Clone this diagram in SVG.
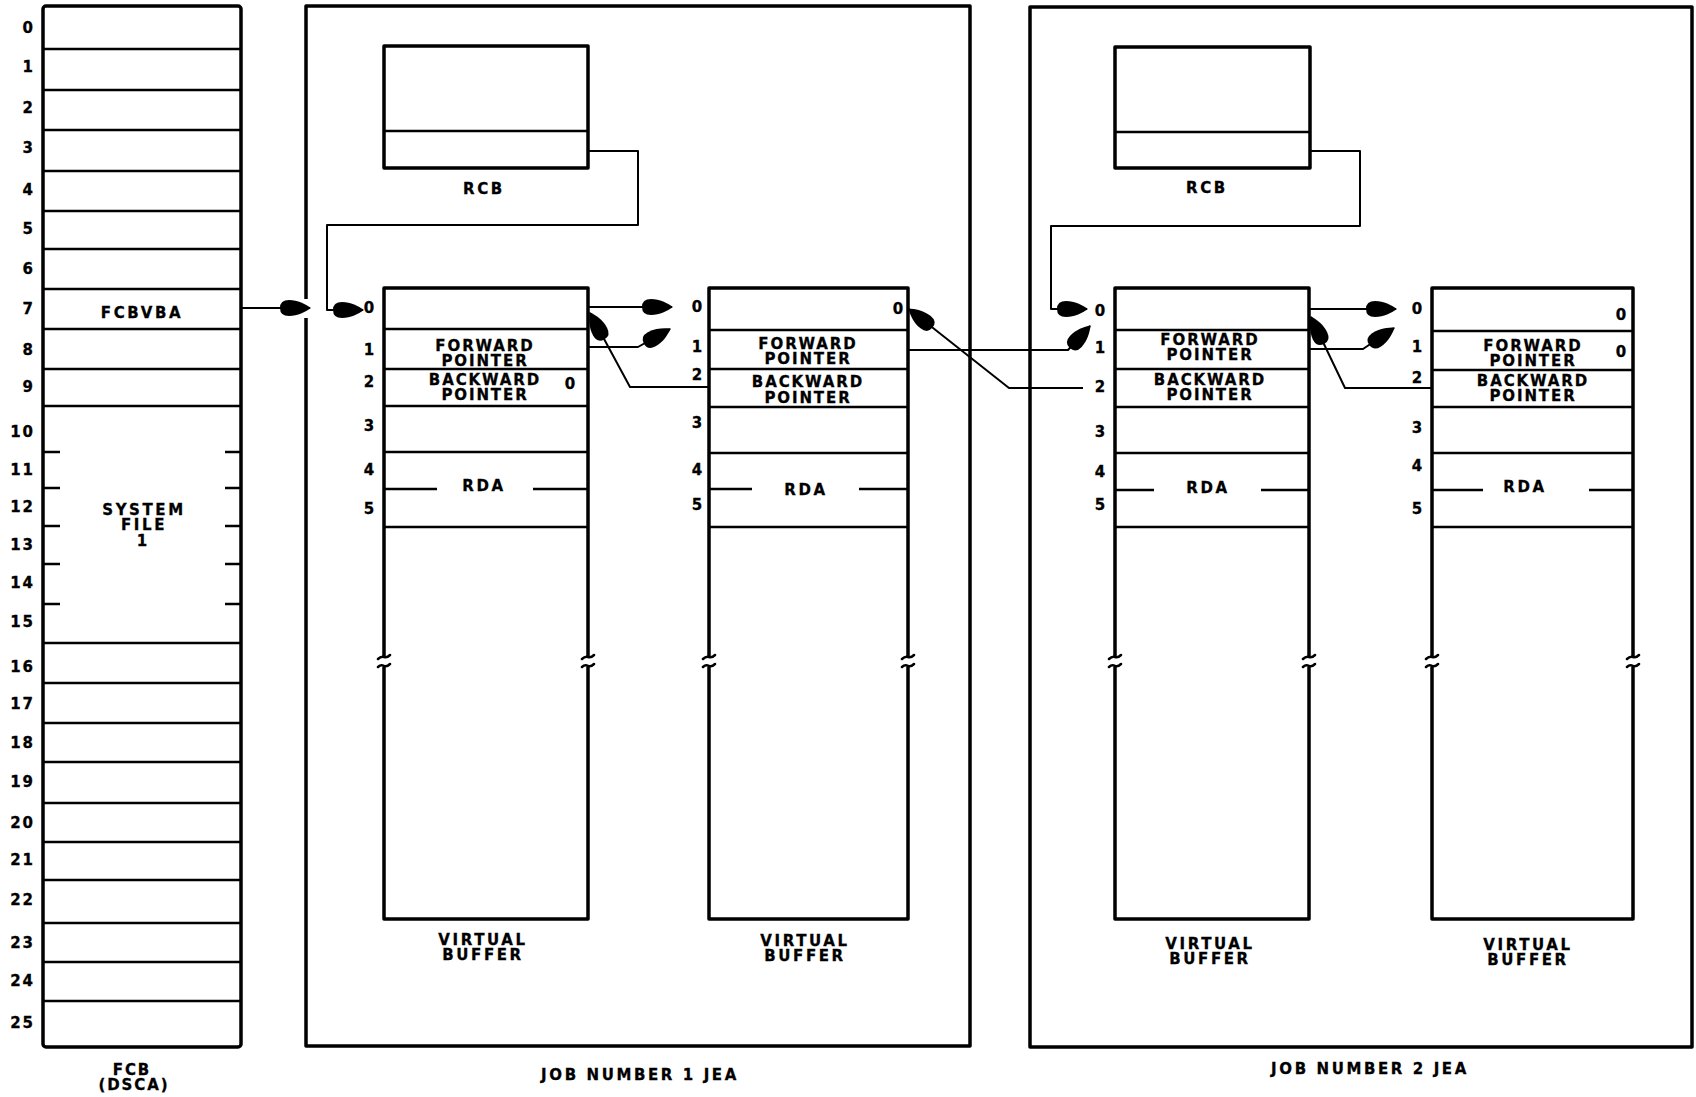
<svg xmlns="http://www.w3.org/2000/svg" width="1696" height="1097" viewBox="0 0 1696 1097">
<style>
.frame{fill:none;stroke:#000;stroke-width:3.5;stroke-linejoin:round}
.row{fill:none;stroke:#000;stroke-width:2.5}
.conn{fill:none;stroke:#000;stroke-width:2;stroke-linejoin:round}
.brk{fill:none;stroke:#000;stroke-width:2.5;stroke-linecap:round}
text{font-family:"DejaVu Sans","Liberation Sans",Arial,sans-serif;font-weight:bold;font-size:15px;fill:#000;stroke:#000;stroke-width:0.3}
.c{text-anchor:middle;letter-spacing:1.9px}
.w{text-anchor:middle;letter-spacing:2.6px}
.n{text-anchor:middle}
.fn{text-anchor:end;letter-spacing:2px}
</style>
<defs>
<marker id="ah" markerUnits="userSpaceOnUse" markerWidth="34" markerHeight="20" viewBox="-32 -10 34 20" refX="0" refY="0" orient="auto">
<path d="M1,0 C-5,-4 -12,-8 -21,-8 Q-30,-8 -30,0 Q-30,8 -21,8 C-12,8 -5,4 1,0 Z" fill="#000"/>
</marker>
</defs>
<rect width="1696" height="1097" fill="#fff"/>

<g id="fcb">
<rect x="43" y="6" width="198" height="1041" rx="3" class="frame"/>
<path class="row" d="M43,49H241M43,90H241M43,130H241M43,171H241M43,211H241M43,249H241M43,289H241M43,329H241M43,369H241M43,406H241M43,643H241M43,683H241M43,723H241M43,762H241M43,803H241M43,842H241M43,880H241M43,923H241M43,962H241M43,1001H241"/>
<path class="row" d="M43,452H60M43,488H60M43,526H60M43,564H60M43,604H60M225,452H241M225,488H241M225,526H241M225,564H241M225,604H241"/>
<text class="w" x="142" y="318">FCBVBA</text>
<text class="w" x="144" y="515">SYSTEM<tspan x="144" dy="15">FILE</tspan><tspan x="142" dy="16" style="letter-spacing:0">1</tspan></text>
<g>
<text class="fn" x="35" y="33">0</text>
<text class="fn" x="35" y="72">1</text>
<text class="fn" x="35" y="113">2</text>
<text class="fn" x="35" y="153">3</text>
<text class="fn" x="35" y="195">4</text>
<text class="fn" x="35" y="234">5</text>
<text class="fn" x="35" y="274">6</text>
<text class="fn" x="35" y="314">7</text>
<text class="fn" x="35" y="355">8</text>
<text class="fn" x="35" y="392">9</text>
<text class="fn" x="35" y="437">10</text>
<text class="fn" x="35" y="475">11</text>
<text class="fn" x="35" y="512">12</text>
<text class="fn" x="35" y="550">13</text>
<text class="fn" x="35" y="588">14</text>
<text class="fn" x="35" y="627">15</text>
<text class="fn" x="35" y="672">16</text>
<text class="fn" x="35" y="709">17</text>
<text class="fn" x="35" y="748">18</text>
<text class="fn" x="35" y="787">19</text>
<text class="fn" x="35" y="828">20</text>
<text class="fn" x="35" y="865">21</text>
<text class="fn" x="35" y="905">22</text>
<text class="fn" x="35" y="948">23</text>
<text class="fn" x="35" y="986">24</text>
<text class="fn" x="35" y="1028">25</text>
</g>
<text class="c" x="132" y="1075">FCB<tspan x="134" dy="15">(DSCA)</tspan></text>
</g>

<g id="jea1">
<path class="frame" d="M306,299V6H970V1046H306V318"/>
<text class="w" x="640" y="1080">JOB NUMBER 1 JEA</text>
</g>

<g id="rcb1">
<rect x="384" y="46" width="204" height="122" class="frame"/>
<line x1="384" y1="131" x2="588" y2="131" class="row"/>
<text class="w" x="484" y="194">RCB</text>
</g>

<g id="buffer1">
<path class="frame" d="M384,657V288H588V657M588,667V919H384V667"/>
<path class="row" d="M384,329H588M384,369H588M384,406H588M384,452H588M384,527H588M384,489H437M533,489H588"/>
<path class="brk" d="M378,659q3,-3 6,-2q3,1 6,-2M378,667q3,-3 6,-1q3,1 6,-2M582,659q3,-3 6,-2q3,1 6,-2M582,667q3,-3 6,-1q3,1 6,-2"/>
<text class="n" x="369" y="313">0</text>
<text class="n" x="369" y="355">1</text>
<text class="n" x="369" y="387">2</text>
<text class="n" x="369" y="431">3</text>
<text class="n" x="369" y="475">4</text>
<text class="n" x="369" y="514">5</text>
<text class="c" x="485" y="351">FORWARD<tspan x="485" dy="15">POINTER</tspan></text>
<text class="c" x="485" y="385">BACKWARD<tspan x="485" dy="15">POINTER</tspan></text>
<text class="n" x="570" y="389">0</text>
<text class="w" x="484" y="491">RDA</text>
<text class="w" x="483" y="945">VIRTUAL<tspan x="483" dy="15">BUFFER</tspan></text>
</g>

<g id="buffer2">
<path class="frame" d="M709,657V288H908V657M908,667V919H709V667"/>
<path class="row" d="M709,330H908M709,369H908M709,407H908M709,453H908M709,527H908M709,489H752M859,489H908"/>
<path class="brk" d="M703,659q3,-3 6,-2q3,1 6,-2M703,667q3,-3 6,-1q3,1 6,-2M902,659q3,-3 6,-2q3,1 6,-2M902,667q3,-3 6,-1q3,1 6,-2"/>
<text class="n" x="697" y="312">0</text>
<text class="n" x="697" y="352">1</text>
<text class="n" x="697" y="380">2</text>
<text class="n" x="697" y="428">3</text>
<text class="n" x="697" y="475">4</text>
<text class="n" x="697" y="510">5</text>
<text class="c" x="808" y="349">FORWARD<tspan x="808" dy="15">POINTER</tspan></text>
<text class="c" x="808" y="387">BACKWARD<tspan x="808" dy="16">POINTER</tspan></text>
<text class="n" x="898" y="314">0</text>
<text class="w" x="806" y="495">RDA</text>
<text class="w" x="805" y="946">VIRTUAL<tspan x="805" dy="15">BUFFER</tspan></text>
</g>

<g id="jea2">
<path class="frame" d="M1030,7H1692V1047H1030Z"/>
<text class="w" x="1370" y="1074">JOB NUMBER 2 JEA</text>
</g>

<g id="rcb2">
<rect x="1115" y="47" width="195" height="121" class="frame"/>
<line x1="1115" y1="132" x2="1310" y2="132" class="row"/>
<text class="w" x="1207" y="193">RCB</text>
</g>

<g id="buffer3">
<path class="frame" d="M1115,657V288H1309V657M1309,667V919H1115V667"/>
<path class="row" d="M1115,330H1309M1115,369H1309M1115,407H1309M1115,453H1309M1115,527H1309M1115,490H1154M1261,490H1309"/>
<path class="brk" d="M1109,659q3,-3 6,-2q3,1 6,-2M1109,667q3,-3 6,-1q3,1 6,-2M1303,659q3,-3 6,-2q3,1 6,-2M1303,667q3,-3 6,-1q3,1 6,-2"/>
<text class="n" x="1100" y="316">0</text>
<text class="n" x="1100" y="353">1</text>
<text class="n" x="1100" y="392">2</text>
<text class="n" x="1100" y="437">3</text>
<text class="n" x="1100" y="477">4</text>
<text class="n" x="1100" y="510">5</text>
<text class="c" x="1210" y="345">FORWARD<tspan x="1210" dy="15">POINTER</tspan></text>
<text class="c" x="1210" y="385">BACKWARD<tspan x="1210" dy="15">POINTER</tspan></text>
<text class="w" x="1208" y="493">RDA</text>
<text class="w" x="1210" y="949">VIRTUAL<tspan x="1210" dy="15">BUFFER</tspan></text>
</g>

<g id="buffer4">
<path class="frame" d="M1432,657V288H1633V657M1633,667V919H1432V667"/>
<path class="row" d="M1432,331H1633M1432,370H1633M1432,407H1633M1432,453H1633M1432,527H1633M1432,490H1483M1589,490H1633"/>
<path class="brk" d="M1426,659q3,-3 6,-2q3,1 6,-2M1426,667q3,-3 6,-1q3,1 6,-2M1627,659q3,-3 6,-2q3,1 6,-2M1627,667q3,-3 6,-1q3,1 6,-2"/>
<text class="n" x="1417" y="314">0</text>
<text class="n" x="1417" y="352">1</text>
<text class="n" x="1417" y="383">2</text>
<text class="n" x="1417" y="433">3</text>
<text class="n" x="1417" y="471">4</text>
<text class="n" x="1417" y="514">5</text>
<text class="c" x="1533" y="351">FORWARD<tspan x="1533" dy="15">POINTER</tspan></text>
<text class="c" x="1533" y="386">BACKWARD<tspan x="1533" dy="15">POINTER</tspan></text>
<text class="n" x="1621" y="320">0</text>
<text class="n" x="1621" y="357">0</text>
<text class="w" x="1525" y="492">RDA</text>
<text class="w" x="1528" y="950">VIRTUAL<tspan x="1528" dy="15">BUFFER</tspan></text>
</g>

<g id="connectors">
<path class="conn" marker-end="url(#ah)" d="M241,308H310"/>
<path class="conn" marker-end="url(#ah)" d="M588,151H638V225H327V310H363"/>
<path class="conn" marker-end="url(#ah)" d="M588,307H672"/>
<path class="conn" marker-end="url(#ah)" d="M588,347H638L670,329"/>
<path class="conn" marker-end="url(#ah)" d="M709,387H630L590,313"/>
<path class="conn" marker-end="url(#ah)" d="M908,350H1068L1090,326"/>
<path class="conn" marker-end="url(#ah)" d="M1083,388H1009L909,309"/>
<path class="conn" marker-end="url(#ah)" d="M1310,151H1360V226H1051V309H1087"/>
<path class="conn" marker-end="url(#ah)" d="M1309,309H1396"/>
<path class="conn" marker-end="url(#ah)" d="M1309,349H1363L1394,328"/>
<path class="conn" marker-end="url(#ah)" d="M1432,388H1345L1311,317"/>
</g>
</svg>
